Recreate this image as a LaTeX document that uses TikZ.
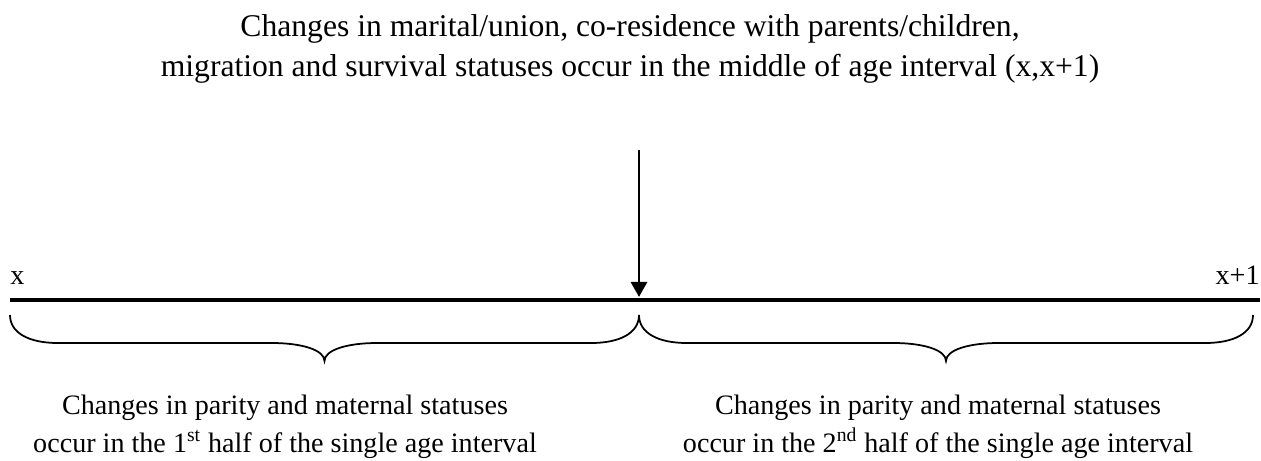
\documentclass[tikz,border=0pt]{standalone}
\usepackage{fontspec}
\setmainfont{Liberation Serif}
\usetikzlibrary{arrows.meta}

% half of the age interval: left x, right x
\newcommand{\agebrace}[2]{%
  \pgfmathsetmacro{\bmid}{(#1+#2)/2}
  \draw[bracestroke] (#1,2.92) .. controls (#1,2.55) and ({#1+0.4},2.36) .. ({#1+0.95},2.36)
    -- ({\bmid-1.06},2.36) .. controls ({\bmid-0.45},2.36) and (\bmid,2.22) .. (\bmid,2.0)
    .. controls (\bmid,2.22) and ({\bmid+0.45},2.36) .. ({\bmid+1.06},2.36)
    -- ({#2-0.95},2.36) .. controls ({#2-0.4},2.36) and (#2,2.55) .. (#2,2.92);}

\begin{document}
\begin{tikzpicture}[>=Latex, every node/.style={align=center},
    toptext/.style={font=\fontsize{18}{22.8}\selectfont},
    lowtext/.style={font=\fontsize{16}{21.6}\selectfont},
    bracestroke/.style={line width=1pt}]
    \useasboundingbox (0,0) rectangle (25.22,9.22);
    % age axis
    \coordinate (ageleft) at (0.2,3.22);
    \coordinate (ageright) at (25.2,3.22);
    \coordinate (agemid) at (12.78,3.22);
    \coordinate (arrowtop) at (12.78,6.22);
    \draw[line width=2.45pt] (ageleft) -- (ageright);
    \node[lowtext, anchor=base west, inner sep=0pt] (xlabel) at (0.2,3.52) {x};
    \node[lowtext, anchor=base east, inner sep=0pt] (xonelabel) at (25.2,3.52) {x+1};
    % mid-interval events
    \node[toptext] (midtext) at (12.6,8.24)
      {Changes in marital/union, co-residence with parents/children,\\migration and survival statuses occur in the middle of age interval (x,x+1)};
    \draw[->, line width=1.7pt, >={Triangle[length=0.3cm, width=0.32cm]}] (arrowtop) -- ([yshift=0.06cm]agemid);
    % half intervals
    \agebrace{0.2}{12.78}
    \agebrace{12.78}{25.06}
    \node[lowtext] (firsthalf) at (5.7,0.69)
      {Changes in parity and maternal statuses\\occur in the 1\textsuperscript{st} half of the single age interval};
    \node[lowtext] (secondhalf) at (18.76,0.69)
      {Changes in parity and maternal statuses\\occur in the 2\textsuperscript{nd} half of the single age interval};
\end{tikzpicture}
\end{document}
